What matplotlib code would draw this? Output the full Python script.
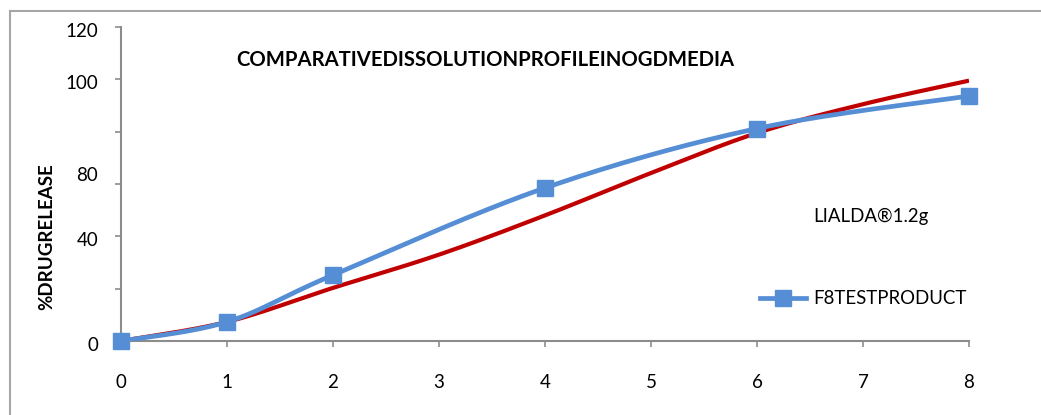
import numpy as np
import matplotlib
matplotlib.use("Agg")
import matplotlib.pyplot as plt
from matplotlib.lines import Line2D
from matplotlib.transforms import ScaledTranslation

# ---- data ----
time_h = [0, 1, 2, 3, 4, 5, 6, 7, 8]
lialda = [0, 7.3, 20.3, 33.0, 48.0, 64.2, 79.5, 90.5, 99.5]
test_time = [0, 1, 2, 4, 6, 8]
test_prod = [0, 7.3, 25.2, 58.5, 81.2, 93.6]
y_ticks = [0, 20, 40, 60, 80, 100, 120]
y_tick_labels = ["0", "", "40", "80", "", "100", "120"]
x_ticks = [0, 1, 2, 3, 4, 5, 6, 7, 8]
title = "COMPARATIVEDISSOLUTIONPROFILEINOGDMEDIA"
ylabel = "%DRUGRELEASE"
names = ["LIALDA®1.2g", "F8TESTPRODUCT"]

BLUE = "#558ED5"
RED = "#C00000"
GRAY = "#8C8C8C"

plt.rcParams["font.family"] = ["Lato", "DejaVu Sans"]


def smooth(xs, ys, n=40):
    """Excel-style smoothed line (Catmull-Rom through Bezier segments)."""
    P = np.column_stack([xs, ys]).astype(float)
    Pe = np.vstack([P[0], P, P[-1]])
    out = []
    t = np.linspace(0, 1, n)[:, None]
    for i in range(len(P) - 1):
        p0, p1, p2, p3 = Pe[i], Pe[i + 1], Pe[i + 2], Pe[i + 3]
        c1 = p1 + (p2 - p0) / 6.0
        c2 = p2 - (p3 - p1) / 6.0
        seg = ((1 - t) ** 3) * p1 + 3 * ((1 - t) ** 2) * t * c1 + 3 * (1 - t) * t ** 2 * c2 + t ** 3 * p2
        out.append(seg if i == 0 else seg[1:])
    s = np.vstack(out)
    return s[:, 0], s[:, 1]


W, H = 1041, 415
fig = plt.figure(figsize=(W / 100, H / 100), dpi=100)
ax = fig.add_axes([121 / W, 1 - 341 / H, 848 / W, 314 / H])

sx, sy = smooth(time_h, lialda)
ax.plot(sx, sy, color=RED, lw=3.0, solid_capstyle="butt", zorder=3)
bx, by = smooth(test_time, test_prod)
ax.plot(bx, by, color=BLUE, lw=3.4, solid_capstyle="butt", zorder=4)
ax.plot(test_time, test_prod, ls="none", marker="s", ms=11.5, color=BLUE,
        mec=BLUE, zorder=5, clip_on=False)

ax.set_xlim(0, 8)
ax.set_ylim(0, 120)
ax.set_xticks(x_ticks)
ax.set_yticks(y_ticks)
ax.set_yticklabels(y_tick_labels)

for s in ["top", "right"]:
    ax.spines[s].set_visible(False)
for s in ["left", "bottom"]:
    ax.spines[s].set_color(GRAY)
    ax.spines[s].set_linewidth(1.5)
ax.tick_params(axis="x", direction="out", length=4, width=1.2, color=GRAY,
               pad=20, labelsize=13.5, labelcolor="black")
ax.tick_params(axis="y", direction="out", length=4.5, width=1.2, color=GRAY,
               pad=12, labelsize=13.5, labelcolor="black")

# label placement offsets as in the reference
for lab, val in zip(ax.get_yticklabels(), y_tick_labels):
    dy = 10 / 72 if val == "80" else -3 / 72
    lab.set_transform(lab.get_transform() + ScaledTranslation(0, dy * 0.72, fig.dpi_scale_trans))

fig.text(47 / W, 1 - 237 / H, ylabel, rotation=90, ha="center", va="center",
         fontsize=13.5, fontweight="bold")
fig.text(485 / W, 1 - 60 / H, title, ha="center", va="center",
         fontsize=14.6, fontweight="bold")

handles = [Line2D([], [], color="none"),
           Line2D([], [], color=BLUE, lw=3.4, marker="s", ms=11.5, mec=BLUE)]
fig.legend(handles, names, loc="upper left",
           bbox_to_anchor=(760 / W, 1 - 208 / H), frameon=False,
           fontsize=13.4, labelspacing=3.5, handlelength=2.45,
           handletextpad=0.4, borderpad=0, borderaxespad=0)

# outer chart frame (top and left edges visible)
fig.add_artist(Line2D([10 / W, 1], [1 - 11 / H, 1 - 11 / H], color="#A6A6A6",
                      lw=1.5, transform=fig.transFigure))
fig.add_artist(Line2D([10 / W, 10 / W], [1 - 11 / H, 0], color="#A6A6A6",
                      lw=1.5, transform=fig.transFigure))

fig.savefig("out.png", dpi=100, facecolor="white")
